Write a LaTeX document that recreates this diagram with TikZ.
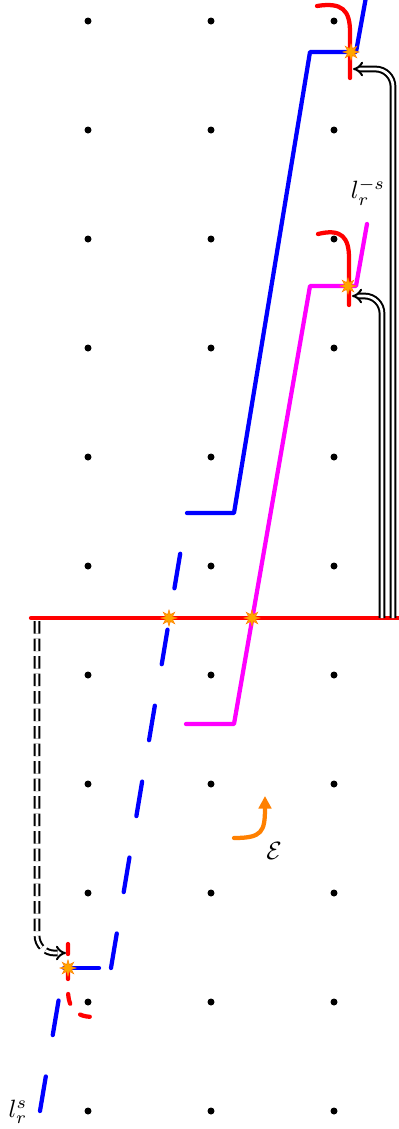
\documentclass[tikz,border=0pt]{standalone}
\usepackage{amsmath,amssymb}
\usetikzlibrary{
	shapes.geometric,
	arrows.meta,
	calc
}
\definecolor{puremagenta}{RGB}{255,0,255}
\definecolor{hitorange}{RGB}{255,165,0}

\begin{document}
\begin{tikzpicture}[
			x=0.4pt, y=-0.4pt,
			gridpt/.style={
				circle, fill=black, inner sep=0pt, minimum size=2.8pt
			},
			hit/.style={
				star, star points=8, star point ratio=2.2,
				fill=hitorange, draw=orange, line width=0.2pt,
				inner sep=0pt, minimum size=6.5pt
			},
			wline/.style={line width=1.7pt, line cap=round, line join=round},
			longdash/.style={dash pattern=on 14pt off 16.8pt},
			dblarrow/.style={
				double, thick, double distance=1.1pt,
				rounded corners=7pt, -{Implies[scale=1.2]}
			},
			lbl/.style={inner sep=1pt}
			]
			
			\useasboundingbox (0,0) rectangle (399,1129);
			
			% ---------------- grid ----------------
			\foreach \row in {0,...,10}
				\foreach \col/\xx in {a/88,b/211,c/334}
					\node[gridpt] (d\col\row) at (\xx,{21+109*\row}) {};
			
			% ---------------- red line ----------------
			\coordinate (redL) at (31,618);
			\coordinate (redR) at (400,618);
			\draw[wline, red] (redL) -- (redR);
			
			% ---------------- blue path ----------------
			\draw[wline, blue, longdash] (40,1111) -- (64,968);
			\draw[wline, blue, longdash] (64,968) -- (110,968);
			\draw[wline, blue, longdash] (111,968) -- (187,513);
			\draw[wline, blue] (187,513) -- (234,513) -- (310,52) -- (356,52) -- (366,-3);
			
			% ---------------- magenta path ----------------
			\draw[wline, puremagenta] (186,724) -- (234,724) -- (310,286) -- (356,286) -- (367,224);
			
			% ---------------- red hooks ----------------
			\draw[wline, red] (350,78) -- (350,32) .. controls (350,10) and (342,2) .. (317,6);
			\draw[wline, red] (349,305) -- (349,258) .. controls (349,238) and (342,228) .. (318,234);
			\draw[wline, red, dash pattern=on 4pt off 6pt]
				(68,944) -- (68,990) .. controls (68,1010) and (78,1020) .. (102,1016);
			
			% ---------------- crossings ----------------
			\node[hit] (hitA) at (351,52) {};
			\node[hit] (hitB) at (348,286) {};
			\node[hit] (hitC) at (169,618) {};
			\node[hit] (hitD) at (252,618) {};
			\node[hit] (hitE) at (68,968) {};
			
			% ---------------- double arrows ----------------
			\coordinate (baseA) at (393,618);
			\coordinate (tipA) at (353,69);
			\draw[dblarrow] (baseA) |- (tipA);
			
			\coordinate (baseB) at (382,618);
			\coordinate (tipB) at (352,296);
			\draw[dblarrow] (baseB) |- (tipB);
			
			\coordinate (baseC) at (37,621);
			\coordinate (tipC) at (66,953);
			\draw[dblarrow, dash pattern=on 5pt off 2pt] (baseC) |- (tipC);
			
			% ---------------- orange arrow ----------------
			\coordinate (flowS) at (234,838);
			\coordinate (flowE) at (265,796);
			\draw[wline, orange, -{Triangle[length=5pt,width=5pt]}]
				(flowS) .. controls (262,838) and (265,832) .. (flowE);
			
			% ---------------- labels ----------------
			\node[lbl] (lblUp) at (368,192) {$l_r^{-s}$};
			\node[lbl] (lblDown) at (18,1112) {$l_r^s$};
			\node[lbl] (lblE) at (274,851) {$\mathcal{E}$};
		\end{tikzpicture}
\end{document}
